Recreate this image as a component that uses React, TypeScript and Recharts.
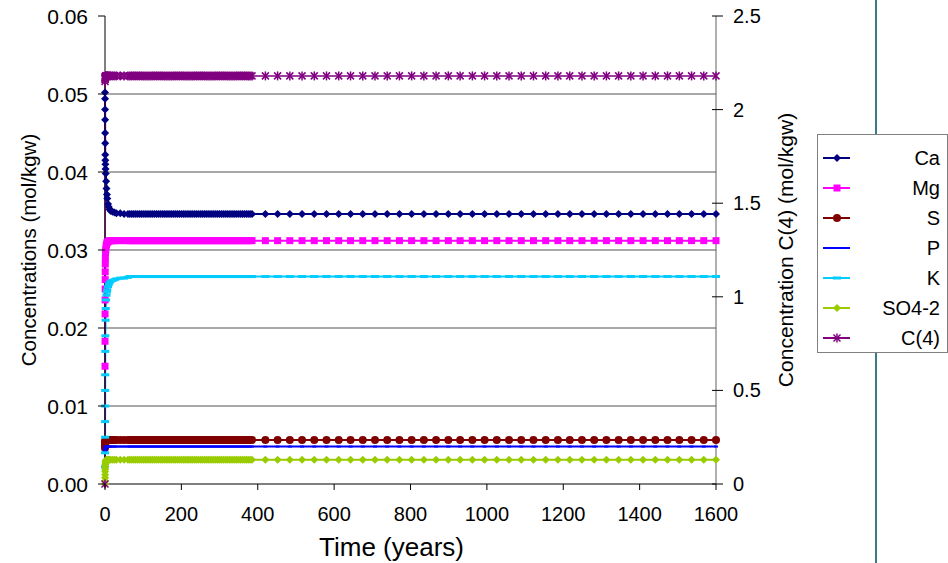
import React from 'react';
import { LineChart, Line, XAxis, YAxis, CartesianGrid, Legend } from 'recharts';

const FONT = '"Liberation Sans", Arial, sans-serif';

// time steps (years): fine steps at the start, then ~5 y, then ~32 y
const earlyTimes = [0, 0.1, 0.2, 0.3, 0.4, 0.5, 0.6, 0.8, 1, 1.5, 2, 3, 4, 5, 6, 8, 10, 12, 15, 20, 25, 30, 40, 50, 60];
const denseTimes = [
  65, 70, 75, 80, 85, 90, 95, 100, 105, 110, 115, 120, 125, 130, 135, 140, 145, 150, 155, 160,
  165, 170, 175, 180, 185, 190, 195, 200, 205, 210, 215, 220, 225, 230, 235, 240, 245, 250, 255, 260,
  265, 270, 275, 280, 285, 290, 295, 300, 305, 310, 315, 320, 325, 330, 335, 340, 345, 350, 355, 360,
  365, 370, 375, 380, 385,
];
const tailTimes = [
  420, 452, 484, 516, 548, 580, 612, 643, 675, 707, 739, 771, 803, 835, 867, 899, 930, 962, 994,
  1026, 1058, 1090, 1122, 1154, 1186, 1217, 1249, 1281, 1313, 1345, 1377, 1409, 1441, 1473, 1504,
  1536, 1568, 1600,
];
const times = [...earlyTimes, ...denseTimes, ...tailTimes];

// transient values (matching earlyTimes), then the steady value
const caEarly = [0.0502, 0.0494, 0.048, 0.0467, 0.045, 0.0437, 0.0422, 0.0415, 0.041, 0.0404, 0.0398, 0.0388, 0.0379, 0.0371, 0.0366, 0.0359, 0.0355, 0.0352, 0.035, 0.0349, 0.0348, 0.0347, 0.0347, 0.0346, 0.0346];
const caSteady = 0.0346;
const mgEarly = [0.0151, 0.0183, 0.0218, 0.0236, 0.025, 0.0262, 0.0272, 0.0282, 0.029, 0.0297, 0.0301, 0.0305, 0.0307, 0.0309, 0.031, 0.0311, 0.0311, 0.0312];
const mgSteady = 0.0312;
const sEarly = [0.0046, 0.0048, 0.005, 0.0051, 0.0052, 0.0053, 0.0054, 0.0055, 0.0055, 0.0056, 0.0056];
const sSteady = 0.00564;
const pEarly = [0.004, 0.0041, 0.0042, 0.0043, 0.0044, 0.0045, 0.0045, 0.0046, 0.0046, 0.0047];
const pSteady = 0.0048;
const kEarly = [0.0022, 0.004, 0.006, 0.008, 0.01, 0.012, 0.014, 0.017, 0.019, 0.021, 0.0225, 0.0236, 0.0242, 0.0246, 0.0249, 0.0253, 0.0256, 0.0258, 0.026, 0.0261, 0.0262, 0.0263, 0.0264, 0.0264, 0.0265];
const kSteady = 0.0266;
const so4Early = [0, 0.0004, 0.0008, 0.0012, 0.0016, 0.0019, 0.0022, 0.0025, 0.0027, 0.0029, 0.003, 0.003, 0.0031];
const so4Steady = 0.0031;
const c4Early = [0, 2.15, 2.16, 2.165, 2.17, 2.17, 2.17, 2.175, 2.175, 2.178];
const c4Steady = 2.18;

const leftTicks = [0, 0.01, 0.02, 0.03, 0.04, 0.05, 0.06];
const gridValues = [0.01, 0.02, 0.03, 0.04, 0.05];
const rightTicks = [0, 0.5, 1, 1.5, 2, 2.5];
const xTicks = [0, 200, 400, 600, 800, 1000, 1200, 1400, 1600];

type Shape = 'diamond' | 'square' | 'circle' | 'smalldash' | 'dash' | 'star';

const series: { key: string; name: string; early: number[]; steady: number; color: string; shape: Shape; axis: string }[] = [
  { key: 'ca', name: 'Ca', early: caEarly, steady: caSteady, color: '#000080', shape: 'diamond', axis: 'left' },
  { key: 'mg', name: 'Mg', early: mgEarly, steady: mgSteady, color: '#FF00FF', shape: 'square', axis: 'left' },
  { key: 's', name: 'S', early: sEarly, steady: sSteady, color: '#800000', shape: 'circle', axis: 'left' },
  { key: 'p', name: 'P', early: pEarly, steady: pSteady, color: '#0000FF', shape: 'smalldash', axis: 'left' },
  { key: 'k', name: 'K', early: kEarly, steady: kSteady, color: '#00CCFF', shape: 'dash', axis: 'left' },
  { key: 'so4', name: 'SO4-2', early: so4Early, steady: so4Steady, color: '#99CC00', shape: 'diamond', axis: 'left' },
  { key: 'c4', name: 'C(4)', early: c4Early, steady: c4Steady, color: '#800080', shape: 'star', axis: 'right' },
];

const rows = times.map((t, i) => {
  const row: Record<string, number> = { t };
  series.forEach((s) => {
    row[s.key] = i < s.early.length ? s.early[i] : s.steady;
  });
  return row;
});

function marker(shape: Shape, color: string, cx: number, cy: number, key?: any) {
  switch (shape) {
    case 'diamond':
      return <polygon key={key} points={`${cx},${cy - 4} ${cx + 4},${cy} ${cx},${cy + 4} ${cx - 4},${cy}`} fill={color} />;
    case 'square':
      return <rect key={key} x={cx - 3.5} y={cy - 3.5} width={7} height={7} fill={color} />;
    case 'circle':
      return <circle key={key} cx={cx} cy={cy} r={4} fill={color} />;
    case 'smalldash':
      return <rect key={key} x={cx - 2} y={cy - 1} width={4} height={2} fill={color} />;
    case 'dash':
      return <rect key={key} x={cx - 4} y={cy - 1.5} width={8} height={3} fill={color} />;
    case 'star':
      return (
        <g key={key} stroke={color} strokeWidth={1.5}>
          <line x1={cx - 3.5} y1={cy - 3.5} x2={cx + 3.5} y2={cy + 3.5} />
          <line x1={cx - 3.5} y1={cy + 3.5} x2={cx + 3.5} y2={cy - 3.5} />
          <line x1={cx} y1={cy - 4.5} x2={cx} y2={cy + 4.5} />
        </g>
      );
  }
  return null;
}

const makeDot = (shape: Shape, color: string) => (props: any) => {
  const { cx, cy, index } = props;
  if (cx == null || cy == null) return <g key={index} />;
  return marker(shape, color, cx, cy, index);
};

const LeftTick = ({ x, y, payload }: any) => (
  <g>
    <line x1={x - 7} x2={x} y1={y} y2={y} stroke="#000" />
    <text x={x - 17} y={y} textAnchor="end" dominantBaseline="central" fontSize={21} fontFamily={FONT} fill="#000">
      {payload.value.toFixed(2)}
    </text>
  </g>
);

const RightTick = ({ x, y, payload }: any) => (
  <g>
    <line x1={x - 4} x2={x + 7} y1={y} y2={y} stroke="#000" />
    <text x={x + 17} y={y} textAnchor="start" dominantBaseline="central" fontSize={20} fontFamily={FONT} fill="#000">
      {String(payload.value)}
    </text>
  </g>
);

const BottomTick = ({ x, y, payload }: any) => (
  <g>
    <line x1={x} x2={x} y1={y} y2={y + 6} stroke="#000" />
    <text x={x} y={y + 30} textAnchor="middle" dominantBaseline="central" fontSize={20} fontFamily={FONT} fill="#000">
      {String(payload.value)}
    </text>
  </g>
);

const LegendBox = () => (
  <div
    style={{
      width: 131,
      height: 219,
      border: '1px solid #808080',
      background: '#fff',
      boxSizing: 'border-box',
      position: 'relative',
      fontFamily: FONT,
      fontSize: 20,
    }}
  >
    {series.map((s, i) => {
      const cy = 23 + i * 30;
      return (
        <div key={s.key} style={{ position: 'absolute', left: 0, top: cy - 15, width: 129, height: 30 }}>
          <svg width={34} height={30} style={{ position: 'absolute', left: 5, top: 0 }}>
            <line x1={0} x2={27} y1={15} y2={15} stroke={s.color} strokeWidth={2} />
            {marker(s.shape, s.color, 14, 15)}
          </svg>
          <span style={{ position: 'absolute', right: 7, top: 3, lineHeight: '24px', color: '#000' }}>{s.name}</span>
        </div>
      );
    })}
  </div>
);

export default function App() {
  return (
    <div style={{ position: 'absolute', left: 0, top: 0, width: 948, height: 563, background: '#fff', overflow: 'hidden' }}>
      <div style={{ position: 'absolute', left: 875, top: 0, width: 2, height: 563, background: '#3B7A8C' }} />
      <LineChart width={948} height={563} data={rows} margin={{ top: 16, right: 0, bottom: 0, left: 0 }}>
        <CartesianGrid yAxisId="left" horizontal vertical={false} horizontalValues={gridValues} stroke="#505050" />
        <XAxis
          dataKey="t"
          type="number"
          domain={[0, 1600]}
          ticks={xTicks}
          height={79}
          tickSize={0}
          tickMargin={0}
          tick={<BottomTick />}
          axisLine={{ stroke: '#000' }}
          interval={0}
          label={{
            content: ({ viewBox }: any) => (
              <text
                x={viewBox.x + viewBox.width / 2 - 19}
                y={viewBox.y + 63}
                textAnchor="middle"
                dominantBaseline="central"
                fontSize={26}
                fontFamily={FONT}
                fill="#000"
              >
                Time (years)
              </text>
            ),
          }}
        />
        <YAxis
          yAxisId="left"
          orientation="left"
          width={105}
          domain={[0, 0.06]}
          ticks={leftTicks}
          tickSize={0}
          tickMargin={0}
          tick={<LeftTick />}
          axisLine={{ stroke: '#000' }}
          interval={0}
          label={{
            content: ({ viewBox }: any) => (
              <text
                transform={`translate(${viewBox.x + 28},${viewBox.y + viewBox.height / 2}) rotate(-90)`}
                textAnchor="middle"
                dominantBaseline="central"
                fontSize={20.5}
                fontFamily={FONT}
                fill="#000"
              >
                Concentrations (mol/kgw)
              </text>
            ),
          }}
        />
        <YAxis
          yAxisId="right"
          orientation="right"
          width={232}
          domain={[0, 2.5]}
          ticks={rightTicks}
          tickSize={0}
          tickMargin={0}
          tick={<RightTick />}
          axisLine={{ stroke: '#606060' }}
          interval={0}
          label={{
            content: ({ viewBox }: any) => (
              <text
                transform={`translate(${viewBox.x + 69},${viewBox.y + viewBox.height / 2}) rotate(-90)`}
                textAnchor="middle"
                dominantBaseline="central"
                fontSize={21}
                fontFamily={FONT}
                fill="#000"
              >
                Concentration C(4) (mol/kgw)
              </text>
            ),
          }}
        />
        <Legend
          layout="vertical"
          align="center"
          verticalAlign="middle"
          content={<LegendBox />}
          wrapperStyle={{ left: 817, top: 134, width: 131, height: 219 }}
        />
        {series.map((s) => (
          <Line
            key={s.key}
            yAxisId={s.axis}
            type="linear"
            dataKey={s.key}
            name={s.name}
            stroke={s.color}
            strokeWidth={s.key === 'c4' ? 1.5 : 2}
            dot={makeDot(s.shape, s.color)}
            activeDot={false}
            isAnimationActive={false}
          />
        ))}
      </LineChart>
    </div>
  );
}
